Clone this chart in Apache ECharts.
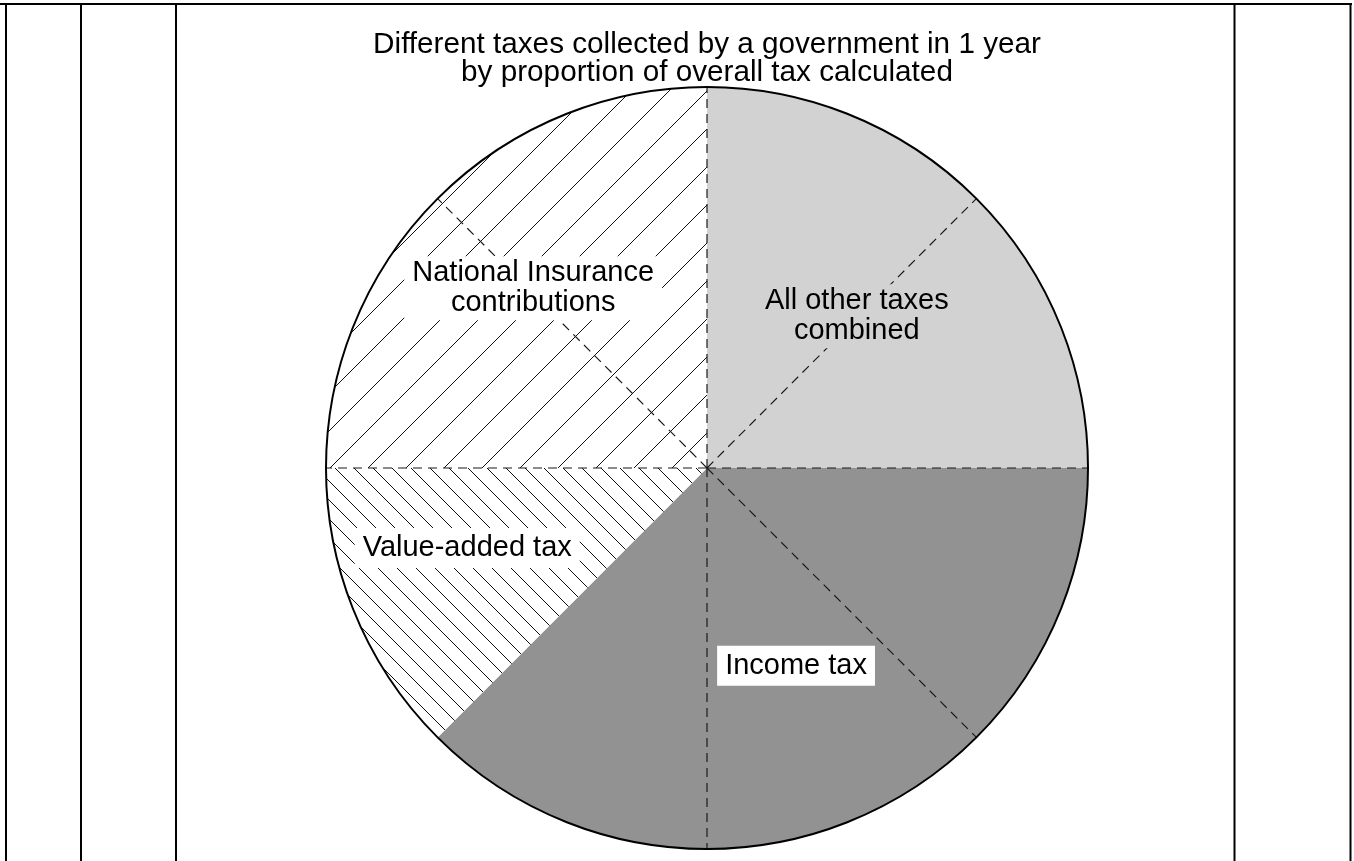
<!DOCTYPE html>
<html><head><meta charset="utf-8">
<script src="https://cdn.jsdelivr.net/npm/echarts@6/dist/echarts.min.js"></script>
<style>html,body{margin:0;padding:0;background:#fff}#c{width:1354px;height:861px}</style>
</head><body><div id="c"></div>
<script>
// ---- data ----
const titleLines = ['Different taxes collected by a government in 1 year', 'by proportion of overall tax calculated'];
const categories = ['All other taxes\ncombined', 'Income tax', 'Value-added tax', 'National Insurance\ncontributions'];
const shares = [25, 37.5, 12.5, 25];                  // percent of overall tax
const dividerShares = [0, 12.5, 25, 37.5, 50, 75, 87.5]; // dashed eighth guides (cumulative percent)

// ---- style ----
const FONT = '"Liberation Sans", Arial, sans-serif';
const CX = 707, CY = 468, R = 381;

function hatch(size, dir) {
  const c = document.createElement('canvas');
  c.width = size; c.height = size;
  const g = c.getContext('2d');
  g.fillStyle = '#fff'; g.fillRect(0, 0, size, size);
  g.strokeStyle = '#111'; g.lineWidth = 1;
  for (let k = -1; k <= 1; k++) {
    g.beginPath();
    if (dir === '/') { g.moveTo(k * size, size); g.lineTo(k * size + size, 0); }
    else { g.moveTo(k * size, 0); g.lineTo(k * size + size, size); }
    g.stroke();
  }
  return { image: c, repeat: 'repeat' };
}

const fills = ['#d2d2d2', '#929292', hatch(19, '\\'), hatch(38, '/')];
const labelStyles = [
  { offset: [13, -15], backgroundColor: '#d2d2d2', padding: [2, 6] },
  { offset: [15, 19], backgroundColor: '#ffffff', padding: [5, 8] },
  { offset: [-61, 6], backgroundColor: '#ffffff', padding: [5, 8] },
  { offset: [-37, -43], backgroundColor: '#ffffff', padding: [2, 8] }
];

const chart = echarts.init(document.getElementById('c'), null, { renderer: 'canvas' });

const vlines = [6, 81, 176, 1234.5, 1350.5];
const graphics = vlines.map(x => ({
  type: 'line', shape: { x1: x, y1: 4, x2: x, y2: 861 },
  style: { stroke: '#000', lineWidth: 2 }, silent: true
}));
graphics.push({ type: 'line', shape: { x1: 0, y1: 4, x2: 1352, y2: 4 }, style: { stroke: '#000', lineWidth: 2 }, silent: true });

const dividerSeries = dividerShares.map(s => ({
  type: 'line', coordinateSystem: 'polar', polarIndex: 0,
  data: [[0, s], [1, s]], symbol: 'none', silent: true, animation: false, z: 5,
  lineStyle: { color: '#1a1a1a', width: 1.2, type: [9, 6] }
}));

const pieBase = {
  type: 'pie', center: [CX, CY], radius: [0, R], startAngle: 90, clockwise: true,
  silent: true, animation: false, avoidLabelOverlap: false, minShowLabelAngle: 0,
  emphasis: { disabled: true }, labelLine: { show: false }
};

chart.setOption({
  animation: false,
  backgroundColor: '#fff',
  graphic: graphics,
  title: {
    text: titleLines.join('\n'), left: CX, top: 31, textAlign: 'center', padding: 0,
    textStyle: { fontFamily: FONT, fontSize: 29.7, fontWeight: 'normal', color: '#000', lineHeight: 28 }
  },
  polar: { center: [CX, CY], radius: R },
  angleAxis: {
    type: 'value', min: 0, max: 100, startAngle: 90, clockwise: true, z: 12,
    axisLine: { show: true, lineStyle: { color: '#000', width: 2 } },
    axisTick: { show: false }, axisLabel: { show: false }, splitLine: { show: false }
  },
  radiusAxis: { type: 'value', min: 0, max: 1, show: false },
  series: [
    Object.assign({}, pieBase, {
      z: 2, label: { show: false },
      data: categories.map((name, i) => ({ name, value: shares[i], itemStyle: { color: fills[i], borderWidth: 0 } }))
    })
  ].concat(dividerSeries).concat([
    Object.assign({}, pieBase, {
      z: 10,
      label: { show: true, position: 'inside', fontFamily: FONT, fontSize: 29, lineHeight: 30, color: '#000', formatter: '{b}' },
      data: categories.map((name, i) => ({
        name, value: shares[i],
        itemStyle: { color: 'rgba(0,0,0,0)', borderWidth: 0 },
        label: labelStyles[i]
      }))
    })
  ])
});
</script>
</body></html>
